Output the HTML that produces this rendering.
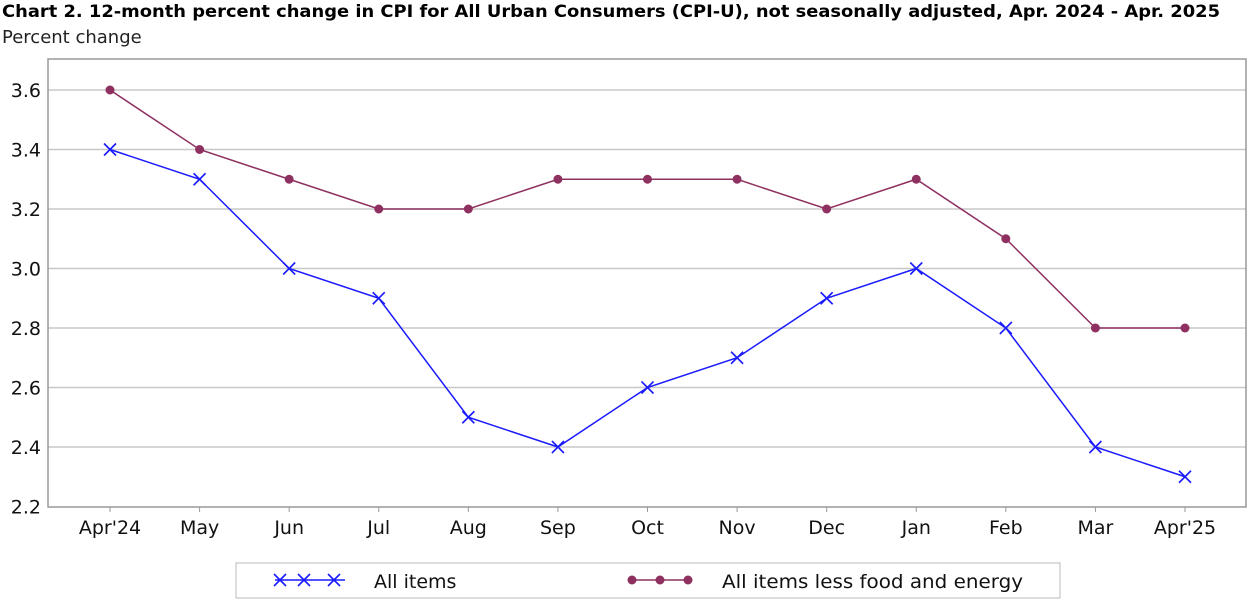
<!DOCTYPE html>
<html><head><meta charset="utf-8"><style>
body{margin:0;background:#fff;width:1248px;height:600px;overflow:hidden;font-family:"DejaVu Sans","Liberation Sans",sans-serif}
</style></head><body>
<svg width="1248" height="600">
<text x="2" y="17" font-size="17" font-weight="bold" fill="#000" textLength="1218" lengthAdjust="spacingAndGlyphs">Chart 2. 12-month percent change in CPI for All Urban Consumers (CPI-U), not seasonally adjusted, Apr. 2024 - Apr. 2025</text>
<text x="2" y="43" font-size="18" fill="#222">Percent change</text>
<g id="grid"></g>
<rect x="48" y="59" width="1198" height="448" fill="none" stroke="#999" stroke-width="1.5"/>
<g id="marks"></g>
<rect x="236" y="563" width="824" height="35" fill="#fff" stroke="#bbb"/>
<g>
<line x1="275" y1="580" x2="345" y2="580" stroke="#1a1aff" stroke-width="1.5"/>
<path d="M274 574l12 12M286 574l-12 12M298 574l12 12M310 574l-12 12M328 574l12 12M340 574l-12 12" stroke="#1a1aff" stroke-width="1.6"/>
<text x="374" y="588" font-size="19" fill="#111">All items</text></g>
<g>
<line x1="630" y1="580" x2="690" y2="580" stroke="#8e3060" stroke-width="1.5"/>
<circle cx="632" cy="580" r="4.5" fill="#8e3060"/><circle cx="660" cy="580" r="4.5" fill="#8e3060"/><circle cx="688" cy="580" r="4.5" fill="#8e3060"/>
<text x="722" y="588" font-size="19" fill="#111" textLength="301" lengthAdjust="spacingAndGlyphs">All items less food and energy</text></g>
</svg>
<script>
const categories=["Apr'24","May","Jun","Jul","Aug","Sep","Oct","Nov","Dec","Jan","Feb","Mar","Apr'25"];
const allItems=[3.4,3.3,3.0,2.9,2.5,2.4,2.6,2.7,2.9,3.0,2.8,2.4,2.3];
const core=[3.6,3.4,3.3,3.2,3.2,3.3,3.3,3.3,3.2,3.3,3.1,2.8,2.8];
const yTicks=[2.2,2.4,2.6,2.8,3.0,3.2,3.4,3.6];
const NS="http://www.w3.org/2000/svg";
const X=i=>110+i*(1075/12);
const Y=v=>506.5-(v-2.2)*(416.5/1.4);
function mk(t,a,p){const e=document.createElementNS(NS,t);for(const k in a)e.setAttribute(k,a[k]);p.appendChild(e);return e;}
const g=document.getElementById('grid'),m=document.getElementById('marks');
yTicks.forEach(v=>{
 if(v>2.2){const l=mk('line',{x1:48,x2:1246,y1:Y(v),y2:Y(v),stroke:'#c8c8c8','stroke-width':1.5},g);
 
 }
 const t=mk('text',{x:41,y:Y(v)+7,'font-size':19,'text-anchor':'end',fill:'#111'},g);t.textContent=v.toFixed(1);
 
 
});
categories.forEach((c,i)=>{
 mk('line',{x1:X(i),x2:X(i),y1:507,y2:512,stroke:'#999'},g);
 const t=mk('text',{x:X(i),y:534,'font-size':19,'text-anchor':'middle',fill:'#111'},g);t.textContent=c;
 
 
});
const p1=mk('polyline',{points:core.map((v,i)=>X(i)+','+Y(v)).join(' '),fill:'none',stroke:'#8e3060','stroke-width':1.5},m);


core.forEach((v,i)=>{const c=mk('circle',{cx:X(i),cy:Y(v),r:4.5,fill:'#8e3060'},m);
 
 });
const p2=mk('polyline',{points:allItems.map((v,i)=>X(i)+','+Y(v)).join(' '),fill:'none',stroke:'#1a1aff','stroke-width':1.5},m);


allItems.forEach((v,i)=>{const x=X(i),y=Y(v);
 const c=mk('path',{d:`M${x-6} ${y-6}L${x+6} ${y+6}M${x+6} ${y-6}L${x-6} ${y+6}`,stroke:'#1a1aff','stroke-width':1.6},m);
 
 });
</script>
</body></html>
